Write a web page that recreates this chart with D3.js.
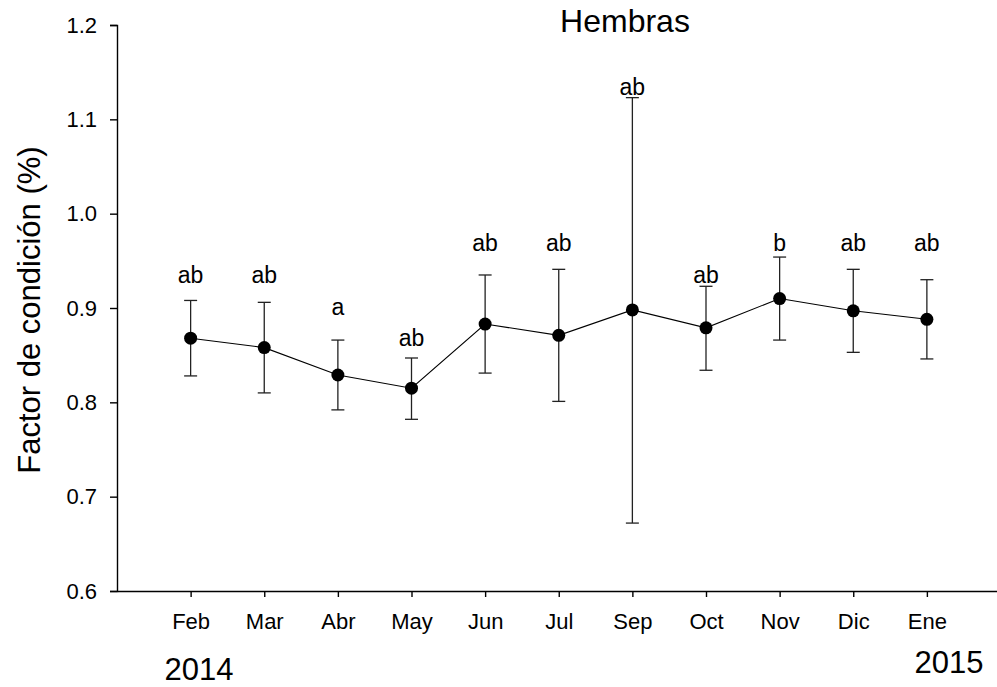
<!DOCTYPE html>
<html>
<head>
<meta charset="utf-8">
<script src="https://cdn.jsdelivr.net/npm/d3@7/dist/d3.min.js"></script>
<style>
  html, body { margin: 0; padding: 0; background: #fff; }
  svg { display: block; font-family: "Liberation Sans", Arial, Helvetica, sans-serif; }
</style>
</head>
<body>
<svg id="chart" width="997" height="687"></svg>
<script>
// Monthly condition factor of females, with error bars and group letters
const months   = ["Feb", "Mar", "Abr", "May", "Jun", "Jul", "Sep", "Oct", "Nov", "Dic", "Ene"];
const means    = [0.868, 0.858, 0.829, 0.815, 0.883, 0.871, 0.898, 0.879, 0.910, 0.897, 0.888];
const upper    = [0.908, 0.906, 0.866, 0.847, 0.935, 0.941, 1.123, 0.923, 0.954, 0.941, 0.930];
const lower    = [0.828, 0.810, 0.792, 0.782, 0.831, 0.801, 0.672, 0.834, 0.866, 0.853, 0.846];
const letters  = ["ab", "ab", "a", "ab", "ab", "ab", "ab", "ab", "b", "ab", "ab"];
const letterAt = [0.927, 0.927, 0.893, 0.860, 0.960, 0.960, 1.126, 0.926, 0.960, 0.960, 0.960];
const yTicks   = [0.6, 0.7, 0.8, 0.9, 1.0, 1.1, 1.2];

const data = months.map((m, i) => ({
  m, i: i + 1, mean: means[i], hi: upper[i], lo: lower[i], letter: letters[i], ly: letterAt[i]
}));

const svg = d3.select("#chart");
const x = d3.scaleLinear().domain([0, 12]).range([117, 1000.5]);
const y = d3.scaleLinear().domain([0.6, 1.2]).range([591, 25]);

// axes
const yAxis = d3.axisLeft(y).tickValues(yTicks).tickFormat(d3.format(".1f"))
  .tickSize(7).tickPadding(13);
const gy = svg.append("g").attr("transform", `translate(${x(0)},0)`).call(yAxis);
gy.selectAll("text").attr("font-size", 22).attr("fill", "#000").attr("font-family", null);
gy.selectAll("path, line").attr("stroke", "#000").attr("stroke-width", 1.4);

const xAxis = d3.axisBottom(x).tickValues(data.map(d => d.i))
  .tickFormat(v => months[v - 1]).tickSize(6).tickSizeOuter(0).tickPadding(16);
const gx = svg.append("g").attr("transform", `translate(0,${y(0.6)})`).call(xAxis);
gx.selectAll("text").attr("font-size", 22).attr("fill", "#000").attr("font-family", null);
gx.selectAll("path, line").attr("stroke", "#000").attr("stroke-width", 1.4);

// error bars
const cap = 6.5;
const eb = svg.append("g").attr("stroke", "#222").attr("stroke-width", 1.3);
data.forEach(d => {
  eb.append("line").attr("x1", x(d.i)).attr("x2", x(d.i)).attr("y1", y(d.hi)).attr("y2", y(d.lo));
  eb.append("line").attr("x1", x(d.i) - cap).attr("x2", x(d.i) + cap).attr("y1", y(d.hi)).attr("y2", y(d.hi));
  eb.append("line").attr("x1", x(d.i) - cap).attr("x2", x(d.i) + cap).attr("y1", y(d.lo)).attr("y2", y(d.lo));
});

// connecting line
svg.append("path").datum(data)
  .attr("fill", "none").attr("stroke", "#000").attr("stroke-width", 1.1)
  .attr("d", d3.line().x(d => x(d.i)).y(d => y(d.mean)));

// mean markers
svg.append("g").selectAll("circle").data(data).join("circle")
  .attr("cx", d => x(d.i)).attr("cy", d => y(d.mean)).attr("r", 6.5).attr("fill", "#000");

// group letters
svg.append("g").selectAll("text").data(data).join("text")
  .attr("x", d => x(d.i)).attr("y", d => y(d.ly))
  .attr("text-anchor", "middle").attr("font-size", 23).attr("fill", "#000")
  .text(d => d.letter);

// title, axis title and years
svg.append("text").attr("x", 625).attr("y", 32).attr("text-anchor", "middle")
  .attr("font-size", 32).text("Hembras");
svg.append("text").attr("transform", "translate(40,310) rotate(-90)")
  .attr("text-anchor", "middle").attr("font-size", 31).text("Factor de condición (%)");
svg.append("text").attr("x", 199).attr("y", 680).attr("text-anchor", "middle")
  .attr("font-size", 31).text("2014");
svg.append("text").attr("x", 949).attr("y", 673).attr("text-anchor", "middle")
  .attr("font-size", 31).text("2015");
</script>
</body>
</html>
